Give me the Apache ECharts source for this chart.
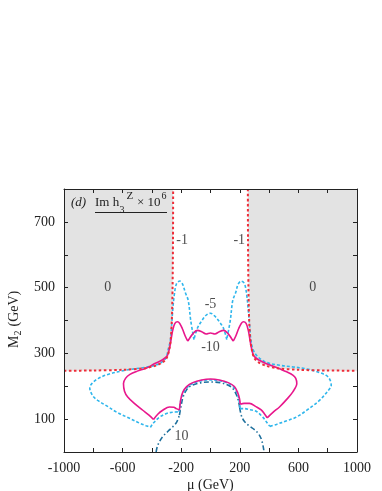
<!DOCTYPE html>
<html><head><meta charset="utf-8">
<script src="https://cdn.jsdelivr.net/npm/echarts@6/dist/echarts.min.js"></script>
<style>html,body{margin:0;padding:0;background:#fff}#c{width:382px;height:491px}</style>
</head><body><div id="c"></div>
<script>
// axis ranges / ticks
const xMin = -1000, xMax = 1000, xStep = 200;
const yMin = 0, yMax = 800, yStep = 100;
const xTickLabels = [-1000, -600, -200, 200, 600, 1000];
const yTickLabels = [100, 300, 500, 700];

// contour "-1": boundary of the "0" (grey) regions
const boundaryLeft = [[-1000,247],[-800,248],[-600,250],[-450,255],[-380,262],[-330,272],[-300,285],[-285,305],[-272,340],[-264,400],[-259,500],[-256,650],[-255,800]];
const boundaryRight = [[255,800],[256,650],[259,500],[264,400],[272,340],[285,305],[300,285],[330,272],[380,262],[450,255],[600,250],[800,248],[1000,247]];

// contour "-5" (segments split at cusps)
const contourMinus5 = [
  [[-300,287],[-350,268],[-440,258],[-575,249],[-700,236],[-765,224],[-810,208],[-824,195],[-805,172],[-770,157],[-700,138],[-644,122],[-560,104],[-485,88],[-440,80],[-410,75]],
  [[-410,75],[-390,88],[-348,106],[-300,117],[-260,121],[-214,122]],
  [[-214,122],[-206,150],[-190,175],[-160,196],[-120,209],[-60,217],[0,219],[60,217],[120,209],[160,196],[185,175],[197,152],[202,132]],
  [[202,132],[230,132],[266,129],[312,124],[357,106],[391,86],[405,78]],
  [[405,78],[450,84],[520,95],[585,106],[660,128],[744,157],[800,185],[824,203],[815,220],[790,233],[720,245],[653,253],[560,259],[471,264],[380,273],[325,289],[292,310],[276,340],[268,380],[258,430],[248,475],[232,512],[209,520],[188,510],[172,485],[152,461],[135,400],[111,342]],
  [[111,342],[90,375],[61,396],[30,413],[0,422],[-30,416],[-61,398],[-90,376],[-113,342]],
  [[-113,342],[-135,400],[-152,461],[-172,485],[-190,510],[-209,520],[-232,512],[-248,475],[-258,430],[-266,380],[-274,340],[-290,310],[-300,287]]
];

// contour "-10"
const contourMinus10 = [
  [[-289,299],[-300,290],[-330,280],[-380,269],[-439,255],[-500,246],[-550,236],[-580,224],[-594,208],[-587,185],[-565,167],[-520,148],[-462,127],[-420,112],[-389,99]],
  [[-389,99],[-360,115],[-326,127],[-280,137],[-250,136],[-234,132],[-212,128]],
  [[-212,128],[-203,160],[-189,182],[-163,199],[-121,211],[-60,219],[0,222],[60,219],[121,211],[163,199],[186,180],[198,162],[203,145]],
  [[203,145],[230,148],[266,148],[310,138],[346,128],[370,115],[387,104]],
  [[387,104],[430,122],[471,137],[520,160],[562,183],[589,208],[582,224],[562,234],[520,244],[471,253],[420,262],[380,269],[330,280],[300,290],[289,299],[278,319],[268,345],[258,370],[243,391],[225,396],[210,391],[192,375],[172,352],[155,337]],
  [[155,337],[120,360],[90,370],[60,366],[30,359],[0,362],[-30,359],[-60,366],[-90,370],[-120,360],[-155,337]],
  [[-155,337],[-172,352],[-192,375],[-210,391],[-225,396],[-243,391],[-258,370],[-268,345],[-278,319],[-289,299]]
];

// contour "10"
const contourPlus10 = [
  [[-371,0],[-364,15],[-350,30],[-326,47],[-290,63],[-257,77],[-232,90],[-212,112]],
  [[-212,112],[-200,142],[-189,165],[-168,186],[-140,200],[-75,210],[0,213],[75,210],[140,198],[168,182],[188,160],[199,135]],
  [[199,135],[210,112],[228,95],[262,80],[300,68],[330,54],[348,38],[358,20],[363,8],[365,0]]
];

// region / contour value labels
const valueLabels = [
  [-701, 500, '0'], [698, 500, '0'],
  [-194, 645, '-1'], [196, 645, '-1'],
  [0, 449, '-5'], [0, 318, '-10'], [-198, 48, '10']
];

const FONT = 'Liberation Serif';
const chart = echarts.init(document.getElementById('c'), null, {renderer: 'canvas'});

function segSeries(segs, color, type, width) {
  return segs.map(s => ({
    type: 'line', data: s, smooth: 0.35, symbol: 'none', silent: true, z: 3,
    lineStyle: {color: color, type: type, width: width, cap: 'butt'}
  }));
}

const series = [
  {type: 'line', data: boundaryLeft, symbol: 'none', silent: true, z: 1,
   lineStyle: {width: 0}, areaStyle: {color: '#e3e3e3', opacity: 1, origin: 'end'}},
  {type: 'line', data: boundaryRight, symbol: 'none', silent: true, z: 1,
   lineStyle: {width: 0}, areaStyle: {color: '#e3e3e3', opacity: 1, origin: 'end'}},
  ...segSeries(contourPlus10, '#1d6f9c', [5, 2.5, 1.5, 2.5], 1.6),
  ...segSeries(contourMinus5, '#2fb6ec', [3, 2], 1.6),
  ...segSeries(contourMinus10, '#e8178c', 'solid', 1.6),
  {type: 'line', data: boundaryLeft, symbol: 'none', silent: true, z: 4, smooth: 0.3,
   lineStyle: {color: '#ee2d38', width: 2, type: [2.5, 2.5]}},
  {type: 'line', data: boundaryRight, symbol: 'none', silent: true, z: 4, smooth: 0.3,
   lineStyle: {color: '#ee2d38', width: 2, type: [2.5, 2.5]}},
  {type: 'scatter', data: valueLabels, symbolSize: 0, silent: true, z: 5,
   label: {show: true, position: 'inside', formatter: p => p.value[2],
           fontFamily: FONT, fontSize: 14, color: '#222'}}
];

const axisCommon = {
  z: 10,
  axisLine: {onZero: false, lineStyle: {color: '#222', width: 1}},
  axisTick: {inside: true, length: 4, lineStyle: {color: '#222'}},
  splitLine: {show: false}
};

const gL = 64, gT = 189, gR = 25, gB = 39;
const T = (x, y, text, font) => ({type: 'text', x: x, y: y, z: 100,
  style: {text: text, font: font, fill: '#222', textVerticalAlign: 'middle', verticalAlign: 'middle'}});

chart.setOption({
  animation: false,
  backgroundColor: '#fff',
  grid: {left: gL, top: gT, right: gR, bottom: gB},
  xAxis: [
    Object.assign({type: 'value', min: xMin, max: xMax, interval: xStep, position: 'bottom',
      axisLabel: {margin: 9, fontFamily: FONT, fontSize: 14, color: '#222',
        formatter: v => xTickLabels.includes(v) ? String(v) : ''}}, axisCommon),
    Object.assign({type: 'value', min: xMin, max: xMax, interval: xStep, position: 'top',
      axisLabel: {show: false}}, axisCommon)
  ],
  yAxis: [
    Object.assign({type: 'value', min: yMin, max: yMax, interval: yStep, position: 'left',
      axisLabel: {margin: 9, fontFamily: FONT, fontSize: 14, color: '#222',
        formatter: v => yTickLabels.includes(v) ? String(v) : ''}}, axisCommon),
    Object.assign({type: 'value', min: yMin, max: yMax, interval: yStep, position: 'right',
      axisLabel: {show: false}}, axisCommon)
  ],
  graphic: [
    T(71, 203, '(d)', 'italic 13px "Liberation Serif"'),
    T(95, 203, 'Im h', '13px "Liberation Serif"'),
    T(119.5, 210.5, '3', '10px "Liberation Serif"'),
    T(126.5, 196, 'Z', '11px "Liberation Serif"'),
    T(137, 203, '× 10', '13px "Liberation Serif"'),
    T(161.5, 196, '6', '10px "Liberation Serif"'),
    {type: 'line', z: 100, shape: {x1: 95, y1: 212.5, x2: 167, y2: 212.5}, style: {stroke: '#222', lineWidth: 1}},
    T(187, 485, 'μ (GeV)', '14px "Liberation Serif"'),
    {type: 'group', x: 14, y: 348, rotation: Math.PI / 2, z: 100, children: [
      T(0, 0, 'M', '14px "Liberation Serif"'),
      T(12.5, 4, '2', '10px "Liberation Serif"'),
      T(18, 0, ' (GeV)', '14px "Liberation Serif"')
    ]}
  ],
  series: series
});
</script>
</body></html>
